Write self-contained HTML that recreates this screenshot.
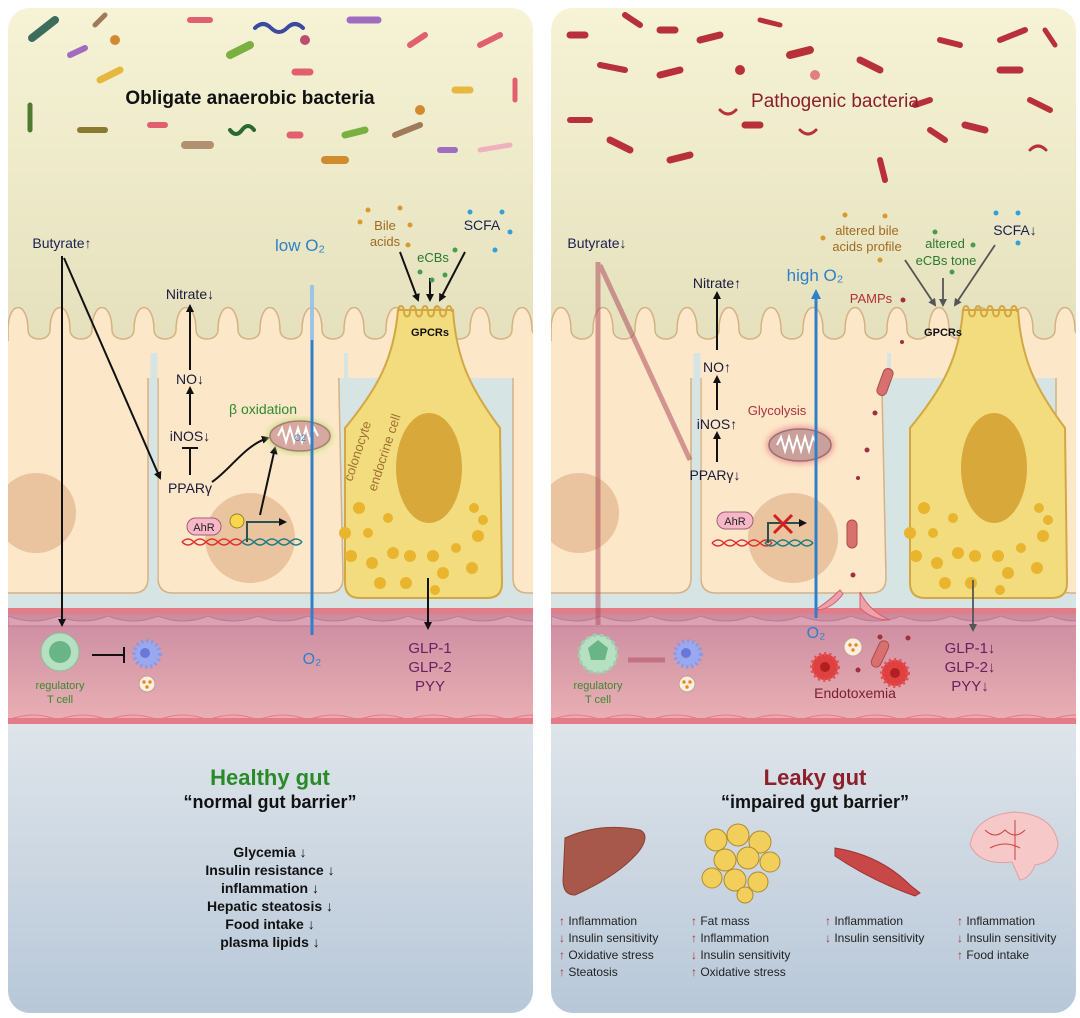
<!DOCTYPE html>
<html><head><meta charset="utf-8"><style>
html,body{margin:0;padding:0;background:#fff;}
svg{display:block;font-family:"Liberation Sans",sans-serif;}
</style></head><body>
<svg width="1080" height="1018" viewBox="0 0 1080 1018" xmlns="http://www.w3.org/2000/svg">
<defs>
<linearGradient id="top" x1="0" y1="0" x2="0" y2="1"><stop offset="0" stop-color="#f6f3d6"/><stop offset="1" stop-color="#e4e0bc"/></linearGradient>
<linearGradient id="bot" x1="0" y1="0" x2="0" y2="1"><stop offset="0" stop-color="#dfe5ea"/><stop offset="1" stop-color="#b7c7d8"/></linearGradient>
<linearGradient id="ves" x1="0" y1="0" x2="0" y2="1"><stop offset="0" stop-color="#c98aa0"/><stop offset="1" stop-color="#eab0b4"/></linearGradient>
<clipPath id="cp"><rect x="0" y="0" width="525" height="1005" rx="22"/></clipPath>
<marker id="ah" markerWidth="8" markerHeight="8" refX="6" refY="4" orient="auto" markerUnits="userSpaceOnUse"><path d="M0,0 L8,4 L0,8Z" fill="#111"/></marker>
<marker id="ahg" markerWidth="8" markerHeight="8" refX="6" refY="4" orient="auto" markerUnits="userSpaceOnUse"><path d="M0,0 L8,4 L0,8Z" fill="#555"/></marker>
<marker id="ahb" markerWidth="10" markerHeight="10" refX="7" refY="5" orient="auto" markerUnits="userSpaceOnUse"><path d="M0,0 L10,5 L0,10Z" fill="#2f80c8"/></marker>
<marker id="tb" markerWidth="2" markerHeight="16" refX="1" refY="8" orient="auto" markerUnits="userSpaceOnUse"><rect x="0" y="0" width="2.5" height="16" fill="#111"/></marker>
<filter id="glowG"><feGaussianBlur stdDeviation="3"/></filter>
<g id="panel">
 <g clip-path="url(#cp)">
  <rect x="0" y="0" width="525" height="345" fill="url(#top)"/>
  <rect x="0" y="340" width="525" height="265" fill="#d6e4e4"/>
  <rect x="0" y="712" width="525" height="300" fill="url(#bot)"/>
  <!-- cells -->
  <path d="M-20,335 L140,335 L140,570 Q140,585 125,585 L-20,585Z" fill="#fce7c8" stroke="#d6b184" stroke-width="1.5"/>
  <path d="M150,335 L330,335 L335,570 Q335,585 320,585 L165,585 Q150,585 150,570Z" fill="#fce7c8" stroke="#d6b184" stroke-width="1.5"/>
  <path d="M505,335 L560,335 L560,585 L520,585 Q505,585 505,570Z" fill="#fce7c8" stroke="#d6b184" stroke-width="1.5"/>
  <path d="M0,322 c0,-30 20,-30 20,0 c0,12 22,12 22,0 c0,-30 20,-30 20,0 c0,12 22,12 22,0 c0,-30 20,-30 20,0 c0,12 22,12 22,0 c0,-30 20,-30 20,0 c0,12 22,12 22,0 c0,-30 20,-30 20,0 c0,12 22,12 22,0 c0,-30 20,-30 20,0 c0,12 22,12 22,0 c0,-30 20,-30 20,0 c0,12 22,12 22,0 c0,-30 20,-30 20,0 c0,12 22,12 22,0 c0,-30 20,-30 20,0 c0,12 22,12 22,0 c0,-30 20,-30 20,0 c0,12 22,12 22,0 c0,-30 20,-30 20,0 c0,12 22,12 22,0 c0,-30 20,-30 20,0 c0,12 22,12 22,0 c0,-30 20,-30 20,0 L540,360 L0,360Z" fill="#fce7c8" stroke="#d6b184" stroke-width="1.5"/>
  <rect x="0" y="333" width="525" height="37" fill="#fce7c8"/>
  <line x1="146" y1="345" x2="146" y2="585" stroke="#d6e4e4" stroke-width="7"/>
  <line x1="338" y1="345" x2="338" y2="585" stroke="#d6e4e4" stroke-width="4"/>
  <circle cx="28" cy="505" r="40" fill="#e9c49e"/>
  <circle cx="242" cy="530" r="45" fill="#e9c49e"/>
  <!-- vessel -->
  <rect x="0" y="600" width="525" height="115" fill="url(#ves)"/>
  <rect x="0" y="600" width="525" height="6" fill="#e27d88"/>
  <path d="M0,608 q25,10 50,0 q25,10 50,0 q25,10 50,0 q25,10 50,0 q25,10 50,0 q25,10 50,0 q25,10 50,0 q25,10 50,0 q25,10 50,0 q25,10 50,0 q25,10 50,0 L550,618 L0,618Z" fill="#dba2b4" stroke="#c07a90" stroke-width="1"/>
  <path d="M0,712 q25,-10 50,0 q25,-10 50,0 q25,-10 50,0 q25,-10 50,0 q25,-10 50,0 q25,-10 50,0 q25,-10 50,0 q25,-10 50,0 q25,-10 50,0 q25,-10 50,0 q25,-10 50,0 L550,712Z" fill="#f4a6ae" stroke="#e07c88" stroke-width="1"/>
  <rect x="0" y="710" width="525" height="6" fill="#e27d88"/>
 </g>
</g>
<g id="endo">
  <path d="M390,302 L445,302 C448,350 462,380 492,420 L494,575 Q494,590 479,590 L352,590 Q337,590 337,575 L337,420 C370,380 386,350 390,302Z" fill="#f2dc7e" stroke="#d3a742" stroke-width="2"/>
  <path d="M390,304 c0,-8 6,-8 6,0 c0,6 6,6 6,0 c0,-8 6,-8 6,0 c0,6 6,6 6,0 c0,-8 6,-8 6,0 c0,6 6,6 6,0 c0,-8 6,-8 6,0 c0,6 6,6 6,0 c0,-8 6,-8 6,0" fill="none" stroke="#d3a742" stroke-width="2"/>
  <ellipse cx="421" cy="460" rx="33" ry="55" fill="#d8a93a"/>
  <g fill="#e9b52f">
   <circle cx="351" cy="500" r="6"/><circle cx="337" cy="525" r="6"/><circle cx="360" cy="525" r="5"/><circle cx="343" cy="548" r="6"/><circle cx="364" cy="555" r="6"/><circle cx="385" cy="545" r="6"/><circle cx="402" cy="548" r="6"/><circle cx="425" cy="548" r="6"/><circle cx="448" cy="540" r="5"/><circle cx="470" cy="528" r="6"/><circle cx="466" cy="500" r="5"/><circle cx="475" cy="512" r="5"/><circle cx="464" cy="560" r="6"/><circle cx="372" cy="575" r="6"/><circle cx="398" cy="575" r="6"/><circle cx="435" cy="565" r="6"/><circle cx="427" cy="582" r="5"/><circle cx="380" cy="510" r="5"/>
  </g>
</g>
</defs>

<g transform="translate(8,8)"><use href="#panel"/><use href="#endo"/></g>
<g transform="translate(551,8)"><use href="#panel"/><use href="#endo" transform="translate(22,0)"/></g>

<!-- bacteria left -->
<g stroke-linecap="round" fill="none">
 <line x1="32" y1="38" x2="55" y2="20" stroke="#3c6d5a" stroke-width="8"/>
 <line x1="70" y1="55" x2="85" y2="48" stroke="#a06cc0" stroke-width="6"/>
 <line x1="95" y1="25" x2="105" y2="15" stroke="#a07a5a" stroke-width="5"/>
 <line x1="190" y1="20" x2="210" y2="20" stroke="#e06070" stroke-width="6"/>
 <path d="M255,28 q8,-8 16,0 q8,8 16,0 q8,-8 16,0" stroke="#3a4aa0" stroke-width="4"/>
 <line x1="350" y1="20" x2="378" y2="20" stroke="#a06cc0" stroke-width="7"/>
 <line x1="230" y1="55" x2="250" y2="45" stroke="#7ab040" stroke-width="8"/>
 <line x1="100" y1="80" x2="120" y2="70" stroke="#e6b840" stroke-width="7"/>
 <line x1="410" y1="45" x2="425" y2="35" stroke="#e06070" stroke-width="6"/>
 <line x1="480" y1="45" x2="500" y2="35" stroke="#e06070" stroke-width="6"/>
 <line x1="455" y1="90" x2="470" y2="90" stroke="#e6b840" stroke-width="7"/>
 <line x1="30" y1="105" x2="30" y2="130" stroke="#507a30" stroke-width="5"/>
 <line x1="80" y1="130" x2="105" y2="130" stroke="#8a7a30" stroke-width="6"/>
 <line x1="150" y1="125" x2="165" y2="125" stroke="#e06070" stroke-width="6"/>
 <line x1="185" y1="145" x2="210" y2="145" stroke="#b09070" stroke-width="8"/>
 <path d="M230,130 q6,8 12,0 q6,-8 12,0" stroke="#2a6a30" stroke-width="4"/>
 <line x1="290" y1="135" x2="300" y2="135" stroke="#e06070" stroke-width="7"/>
 <line x1="325" y1="160" x2="345" y2="160" stroke="#d08a30" stroke-width="8"/>
 <line x1="345" y1="135" x2="365" y2="130" stroke="#7ab040" stroke-width="7"/>
 <line x1="395" y1="135" x2="420" y2="125" stroke="#a07a5a" stroke-width="6"/>
 <line x1="440" y1="150" x2="455" y2="150" stroke="#a06cc0" stroke-width="6"/>
 <line x1="480" y1="150" x2="510" y2="145" stroke="#f0b0c0" stroke-width="5"/>
 <line x1="515" y1="80" x2="515" y2="100" stroke="#e06070" stroke-width="5"/>
 <line x1="295" y1="72" x2="310" y2="72" stroke="#e06070" stroke-width="7"/>
 <circle cx="115" cy="40" r="5" fill="#d08a30"/><circle cx="420" cy="110" r="5" fill="#d08a30"/><circle cx="305" cy="40" r="5" fill="#c04a70"/>
</g>
<!-- bacteria right -->
<g stroke-linecap="round" fill="none" stroke="#b8303a">
 <line x1="570" y1="35" x2="585" y2="35" stroke-width="7"/>
 <line x1="625" y1="15" x2="640" y2="25" stroke-width="6"/>
 <line x1="660" y1="30" x2="675" y2="30" stroke-width="7"/>
 <line x1="600" y1="65" x2="625" y2="70" stroke-width="6"/>
 <line x1="700" y1="40" x2="720" y2="35" stroke-width="7"/>
 <line x1="760" y1="20" x2="780" y2="25" stroke-width="5"/>
 <line x1="790" y1="55" x2="810" y2="50" stroke-width="8"/>
 <line x1="860" y1="60" x2="880" y2="70" stroke-width="7"/>
 <line x1="940" y1="40" x2="960" y2="45" stroke-width="6"/>
 <line x1="1000" y1="40" x2="1025" y2="30" stroke-width="6"/>
 <line x1="1045" y1="30" x2="1055" y2="45" stroke-width="5"/>
 <line x1="1000" y1="70" x2="1020" y2="70" stroke-width="7"/>
 <line x1="660" y1="75" x2="680" y2="70" stroke-width="7"/>
 <line x1="570" y1="120" x2="590" y2="120" stroke-width="6"/>
 <line x1="610" y1="140" x2="630" y2="150" stroke-width="7"/>
 <line x1="670" y1="160" x2="690" y2="155" stroke-width="7"/>
 <line x1="745" y1="125" x2="760" y2="125" stroke-width="7"/>
 <line x1="880" y1="160" x2="885" y2="180" stroke-width="6"/>
 <line x1="930" y1="130" x2="945" y2="140" stroke-width="6"/>
 <line x1="965" y1="125" x2="985" y2="130" stroke-width="7"/>
 <line x1="1030" y1="100" x2="1050" y2="110" stroke-width="6"/>
 <line x1="915" y1="105" x2="930" y2="100" stroke-width="6"/>
 <path d="M800,130 q8,8 16,0 M1030,150 q8,-8 16,0 M720,110 q8,8 16,0" stroke-width="3"/>
 <circle cx="815" cy="75" r="5" fill="#e08080" stroke="none"/><circle cx="740" cy="70" r="5" fill="#b8303a" stroke="none"/>
</g>

<!-- LEFT TEXT & ARROWS -->
<g font-family="Liberation Sans, sans-serif" text-anchor="middle">
<text x="250" y="104" font-size="19" font-weight="bold" fill="#111">Obligate anaerobic bacteria</text>
<text x="62" y="248" font-size="14" fill="#1a2050">Butyrate↑</text>
<g stroke="#111" stroke-width="2" fill="none">
 <line x1="62" y1="256" x2="62" y2="625" marker-end="url(#ah)"/>
 <line x1="64" y1="258" x2="160" y2="478" marker-end="url(#ah)"/>
 <line x1="190" y1="370" x2="190" y2="306" marker-end="url(#ah)"/>
 <line x1="190" y1="425" x2="190" y2="388" marker-end="url(#ah)"/>
 <line x1="190" y1="475" x2="190" y2="448" marker-end="url(#tb)"/>
 <path d="M212,482 C230,470 245,445 268,438" marker-end="url(#ah)"/>
 <line x1="260" y1="515" x2="275" y2="448" marker-end="url(#ah)"/>
 <line x1="400" y1="252" x2="418" y2="300" marker-end="url(#ah)"/>
 <line x1="430" y1="278" x2="430" y2="300" marker-end="url(#ah)"/>
 <line x1="465" y1="252" x2="440" y2="300" marker-end="url(#ah)"/>
 <line x1="428" y1="578" x2="428" y2="628" marker-end="url(#ah)"/>
 <line x1="92" y1="655" x2="124" y2="655" marker-end="url(#tb)"/>
</g>
<text x="190" y="299" font-size="14" fill="#1a1a3a">Nitrate↓</text>
<text x="190" y="384" font-size="14" fill="#1a1a3a">NO↓</text>
<text x="190" y="441" font-size="14" fill="#1a1a3a">iNOS↓</text>
<text x="190" y="493" font-size="14" fill="#1a1a3a">PPARγ</text>
<text x="263" y="414" font-size="14" fill="#2e8b2e">β oxidation</text>
<ellipse cx="300" cy="436" rx="32" ry="17" fill="#b8e07a" filter="url(#glowG)"/>
<ellipse cx="300" cy="436" rx="30" ry="15" fill="#d6a9a0" stroke="#b07a74" stroke-width="1.5"/>
<path d="M278,436 l4,-8 l4,14 l4,-14 l4,14 l4,-14 l4,14 l4,-14 l4,14 l4,-14 l4,8" fill="none" stroke="#fff" stroke-width="2"/>
<text x="300" y="441" font-size="9" fill="#2f80c8">O2</text>
<rect x="187" y="518" width="34" height="17" rx="8.5" fill="#f6b8c8" stroke="#a06070"/>
<text x="204" y="531" font-size="11" fill="#222">AhR</text>
<circle cx="237" cy="521" r="7" fill="#f6d84a" stroke="#a08020"/>
<path d="M182,542 q6,-6 12,0 q6,6 12,0 q6,-6 12,0 q6,6 12,0 q6,-6 12,0 M182,542 q6,6 12,0 q6,-6 12,0 q6,6 12,0 q6,-6 12,0 q6,6 12,0" stroke="#e03030" fill="none" stroke-width="1.5"/>
<path d="M242,542 q6,-6 12,0 q6,6 12,0 q6,-6 12,0 q6,6 12,0 q6,-6 12,0 M242,542 q6,6 12,0 q6,-6 12,0 q6,6 12,0 q6,-6 12,0 q6,6 12,0" stroke="#207a80" fill="none" stroke-width="1.5"/>
<path d="M247,542 L247,522 L285,522" stroke="#2a5050" stroke-width="2" fill="none" marker-end="url(#ah)"/>
<text x="300" y="251" font-size="17" fill="#2f80c8">low O₂</text>
<line x1="312" y1="285" x2="312" y2="340" stroke="#9cc4e4" stroke-width="4"/>
<line x1="312" y1="340" x2="312" y2="635" stroke="#2f80c8" stroke-width="3"/>
<text x="312" y="664" font-size="16" fill="#2f80c8">O₂</text>
<text x="385" y="230" font-size="13" fill="#a06a20">Bile</text>
<text x="385" y="246" font-size="13" fill="#a06a20">acids</text>
<text x="433" y="262" font-size="13" fill="#2a7a30">eCBs</text>
<text x="482" y="230" font-size="14" fill="#1a2050">SCFA</text>
<g fill="#d89a30"><circle cx="360" cy="222" r="2.5"/><circle cx="368" cy="210" r="2.5"/><circle cx="400" cy="208" r="2.5"/><circle cx="410" cy="225" r="2.5"/><circle cx="408" cy="245" r="2.5"/></g>
<g fill="#4a9a50"><circle cx="420" cy="272" r="2.5"/><circle cx="445" cy="275" r="2.5"/><circle cx="455" cy="250" r="2.5"/><circle cx="432" cy="280" r="2.5"/></g>
<g fill="#30a0d8"><circle cx="470" cy="212" r="2.5"/><circle cx="502" cy="212" r="2.5"/><circle cx="510" cy="232" r="2.5"/><circle cx="495" cy="250" r="2.5"/></g>
<text x="430" y="336" font-size="11" font-weight="bold" fill="#111">GPCRs</text>
<text transform="translate(352,482) rotate(-72)" font-size="13" fill="#a07030" text-anchor="start">colonocyte</text>
<text transform="translate(376,492) rotate(-72)" font-size="13" fill="#a07030" text-anchor="start">endocrine cell</text>
<text x="430" y="653" font-size="15" fill="#6a2060">GLP-1</text>
<text x="430" y="672" font-size="15" fill="#6a2060">GLP-2</text>
<text x="430" y="691" font-size="15" fill="#6a2060">PYY</text>
<circle cx="60" cy="652" r="19" fill="#b5e0c2" stroke="#8ac09a"/>
<circle cx="60" cy="652" r="11" fill="#6ab588"/>
<text x="60" y="689" font-size="11" fill="#3a8a30">regulatory</text>
<text x="60" y="703" font-size="11" fill="#3a8a30">T cell</text>
<circle cx="147" cy="654" r="13" fill="#9aa8f0" stroke="#8898e8" stroke-width="4" stroke-dasharray="2 3"/>
<circle cx="145" cy="653" r="5" fill="#6878d8"/>
<circle cx="147" cy="684" r="8" fill="#fbeede" stroke="#c0a090"/>
<g fill="#e08a20"><circle cx="144" cy="682" r="1.7"/><circle cx="150" cy="682" r="1.7"/><circle cx="147" cy="687" r="1.7"/></g>
<text x="270" y="785" font-size="22" font-weight="bold" fill="#2a8a2a">Healthy gut</text>
<text x="270" y="808" font-size="18" font-weight="bold" fill="#111">“normal gut barrier”</text>
<g font-size="14" font-weight="bold" fill="#111">
<text x="270" y="857">Glycemia ↓</text>
<text x="270" y="875">Insulin resistance ↓</text>
<text x="270" y="893">inflammation ↓</text>
<text x="270" y="911">Hepatic steatosis ↓</text>
<text x="270" y="929">Food intake ↓</text>
<text x="270" y="947">plasma lipids ↓</text>
</g>
</g>

<!-- RIGHT TEXT & ARROWS -->
<g font-family="Liberation Sans, sans-serif" text-anchor="middle">
<text x="835" y="107" font-size="19" fill="#8b1f2a">Pathogenic bacteria</text>
<text x="597" y="248" font-size="14" fill="#1a2050">Butyrate↓</text>
<g stroke="#b05060" stroke-width="5" opacity="0.55" fill="none">
 <line x1="598" y1="262" x2="598" y2="625"/>
 <line x1="600" y1="265" x2="690" y2="460"/>
 <line x1="628" y1="660" x2="665" y2="660"/>
</g>
<g stroke="#111" stroke-width="2" fill="none">
 <line x1="717" y1="350" x2="717" y2="293" marker-end="url(#ah)"/>
 <line x1="717" y1="410" x2="717" y2="377" marker-end="url(#ah)"/>
 <line x1="717" y1="462" x2="717" y2="433" marker-end="url(#ah)"/>
</g>
<g stroke="#555" stroke-width="1.8" fill="none">
 <line x1="905" y1="260" x2="935" y2="305" marker-end="url(#ahg)"/>
 <line x1="943" y1="278" x2="943" y2="305" marker-end="url(#ahg)"/>
 <line x1="995" y1="245" x2="955" y2="305" marker-end="url(#ahg)"/>
 <line x1="973" y1="580" x2="973" y2="630" marker-end="url(#ahg)"/>
</g>
<text x="717" y="288" font-size="14" fill="#1a1a3a">Nitrate↑</text>
<text x="717" y="372" font-size="14" fill="#1a1a3a">NO↑</text>
<text x="717" y="429" font-size="14" fill="#1a1a3a">iNOS↑</text>
<text x="715" y="480" font-size="14" fill="#1a1a3a">PPARγ↓</text>
<text x="777" y="415" font-size="13" fill="#b0303a">Glycolysis</text>
<ellipse cx="800" cy="445" rx="34" ry="19" fill="#f0a0a0" filter="url(#glowG)"/>
<ellipse cx="800" cy="445" rx="31" ry="16" fill="#c9a09a" stroke="#9a7070" stroke-width="1.5"/>
<path d="M777,445 l4,-8 l4,14 l4,-14 l4,14 l4,-14 l4,14 l4,-14 l4,14 l4,-14 l4,8" fill="none" stroke="#fff" stroke-width="2"/>
<rect x="717" y="512" width="36" height="17" rx="8.5" fill="#f6b8c8" stroke="#a06070"/>
<text x="735" y="525" font-size="11" fill="#222">AhR</text>
<path d="M712,543 q6,-6 12,0 q6,6 12,0 q6,-6 12,0 q6,6 12,0 q6,-6 12,0 M712,543 q6,6 12,0 q6,-6 12,0 q6,6 12,0 q6,-6 12,0 q6,6 12,0" stroke="#e03030" fill="none" stroke-width="1.5"/>
<path d="M765,543 q6,-6 12,0 q6,6 12,0 q6,-6 12,0 q6,6 12,0 M765,543 q6,6 12,0 q6,-6 12,0 q6,6 12,0 q6,-6 12,0" stroke="#207a80" fill="none" stroke-width="1.5"/>
<path d="M768,543 L768,523 L805,523" stroke="#2a5050" stroke-width="2" fill="none" marker-end="url(#ah)"/>
<path d="M774,515 L792,533 M792,515 L774,533" stroke="#d02020" stroke-width="3"/>
<text x="815" y="281" font-size="17" fill="#2f80c8">high O₂</text>
<line x1="816" y1="618" x2="816" y2="292" stroke="#2f80c8" stroke-width="3" marker-end="url(#ahb)"/>
<text x="816" y="638" font-size="16" fill="#2f80c8">O₂</text>
<text x="867" y="235" font-size="13" fill="#a06a20">altered bile</text>
<text x="867" y="251" font-size="13" fill="#a06a20">acids profile</text>
<text x="945" y="248" font-size="13" fill="#2a7a30">altered</text>
<text x="946" y="265" font-size="13" fill="#2a7a30">eCBs tone</text>
<text x="1015" y="235" font-size="14" fill="#1a2050">SCFA↓</text>
<g fill="#d89a30"><circle cx="845" cy="215" r="2.5"/><circle cx="885" cy="216" r="2.5"/><circle cx="823" cy="238" r="2.5"/><circle cx="880" cy="260" r="2.5"/></g>
<g fill="#4a9a50"><circle cx="935" cy="232" r="2.5"/><circle cx="973" cy="245" r="2.5"/><circle cx="952" cy="272" r="2.5"/></g>
<g fill="#30a0d8"><circle cx="996" cy="213" r="2.5"/><circle cx="1018" cy="213" r="2.5"/><circle cx="1018" cy="243" r="2.5"/></g>
<text x="871" y="303" font-size="13" fill="#b0303a">PAMPs</text>
<g fill="#a03040"><circle cx="903" cy="300" r="2.5"/><circle cx="902" cy="342" r="2"/><circle cx="875" cy="413" r="2.5"/><circle cx="867" cy="450" r="2.5"/><circle cx="858" cy="478" r="2"/><circle cx="853" cy="575" r="2.5"/><circle cx="880" cy="637" r="2.5"/><circle cx="908" cy="638" r="2.5"/><circle cx="858" cy="670" r="2.5"/></g>
<rect x="880" y="368" width="10" height="28" rx="5" transform="rotate(20 885 382)" fill="#d87070" stroke="#b04a4a"/>
<rect x="847" y="520" width="10" height="28" rx="5" fill="#d87070" stroke="#b04a4a"/>
<rect x="875" y="640" width="10" height="28" rx="5" transform="rotate(25 880 654)" fill="#d87070" stroke="#b04a4a"/>
<path d="M818,608 q12,-8 22,-18 l3,4 q-10,14 -25,16Z M860,592 q10,20 30,28 q-18,0 -30,-12Z" fill="#f0a0a8" stroke="#d06070"/>
<text x="943" y="336" font-size="11" font-weight="bold" fill="#111">GPCRs</text>
<text x="970" y="653" font-size="15" fill="#6a2060">GLP-1↓</text>
<text x="970" y="672" font-size="15" fill="#6a2060">GLP-2↓</text>
<text x="970" y="691" font-size="15" fill="#6a2060">PYY↓</text>
<circle cx="825" cy="667" r="13" fill="#e04040" stroke="#e05050" stroke-width="4" stroke-dasharray="2 3"/>
<circle cx="825" cy="667" r="5" fill="#b02020"/>
<circle cx="895" cy="673" r="13" fill="#e04040" stroke="#e05050" stroke-width="4" stroke-dasharray="2 3"/>
<circle cx="895" cy="673" r="5" fill="#b02020"/>
<circle cx="853" cy="647" r="9" fill="#fbeede" stroke="#c0a090"/>
<g fill="#e08a20"><circle cx="850" cy="645" r="1.7"/><circle cx="856" cy="645" r="1.7"/><circle cx="853" cy="650" r="1.7"/></g>
<text x="855" y="698" font-size="14" fill="#7a2030">Endotoxemia</text>
<circle cx="598" cy="654" r="19" fill="#b5e0c2" stroke="#9ad0aa" stroke-width="3" stroke-dasharray="4 3"/>
<path d="M588,648 l10,-8 l10,8 l-3,12 l-14,0Z" fill="#6ab588"/>
<text x="598" y="689" font-size="11" fill="#3a8a30">regulatory</text>
<text x="598" y="703" font-size="11" fill="#3a8a30">T cell</text>
<circle cx="688" cy="654" r="13" fill="#9aa8f0" stroke="#8898e8" stroke-width="4" stroke-dasharray="2 3"/>
<circle cx="686" cy="653" r="5" fill="#6878d8"/>
<circle cx="687" cy="684" r="8" fill="#fbeede" stroke="#c0a090"/>
<g fill="#e08a20"><circle cx="684" cy="682" r="1.7"/><circle cx="690" cy="682" r="1.7"/><circle cx="687" cy="687" r="1.7"/></g>
<text x="815" y="785" font-size="22" font-weight="bold" fill="#8b1f2a">Leaky gut</text>
<text x="815" y="808" font-size="18" font-weight="bold" fill="#111">“impaired gut barrier”</text>
</g>
<!-- organs -->
<path d="M565,838 Q600,822 640,830 Q650,835 640,850 Q620,875 575,895 Q563,895 563,880Z" fill="#a8584a" stroke="#8a4034"/>
<g stroke="#b08a30" stroke-width="1">
<circle cx="716" cy="840" r="11" fill="#f2cf5a"/><circle cx="738" cy="835" r="11" fill="#f2cf5a"/><circle cx="760" cy="842" r="11" fill="#f2cf5a"/><circle cx="725" cy="860" r="11" fill="#f2cf5a"/><circle cx="748" cy="858" r="11" fill="#f2cf5a"/><circle cx="770" cy="862" r="10" fill="#f2cf5a"/><circle cx="712" cy="878" r="10" fill="#f2cf5a"/><circle cx="735" cy="880" r="11" fill="#f2cf5a"/><circle cx="758" cy="882" r="10" fill="#f2cf5a"/><circle cx="745" cy="895" r="8" fill="#f2cf5a"/>
</g>
<path d="M835,848 Q880,855 910,885 L920,893 L915,896 Q870,880 835,856Z" fill="#c84848" stroke="#a03030"/>
<path d="M970,845 Q975,815 1015,812 Q1055,815 1058,845 Q1055,862 1035,865 Q1030,878 1020,880 L1012,862 Q980,866 970,845Z" fill="#f6c8c8" stroke="#e0a0a0"/>
<path d="M985,830 q10,10 20,0 q10,10 20,0 M990,848 q15,-8 30,0 M1015,820 l0,40" stroke="#d04040" fill="none"/>
<g font-family="Liberation Sans, sans-serif" font-size="12" fill="#222">
<text x="559" y="925"><tspan fill="#b0303a">↑</tspan> Inflammation</text>
<text x="559" y="942"><tspan fill="#b0303a">↓</tspan> Insulin sensitivity</text>
<text x="559" y="959"><tspan fill="#b0303a">↑</tspan> Oxidative stress</text>
<text x="559" y="976"><tspan fill="#b0303a">↑</tspan> Steatosis</text>
<text x="691" y="925"><tspan fill="#b0303a">↑</tspan> Fat mass</text>
<text x="691" y="942"><tspan fill="#b0303a">↑</tspan> Inflammation</text>
<text x="691" y="959"><tspan fill="#b0303a">↓</tspan> Insulin sensitivity</text>
<text x="691" y="976"><tspan fill="#b0303a">↑</tspan> Oxidative stress</text>
<text x="825" y="925"><tspan fill="#b0303a">↑</tspan> Inflammation</text>
<text x="825" y="942"><tspan fill="#b0303a">↓</tspan> Insulin sensitivity</text>
<text x="957" y="925"><tspan fill="#b0303a">↑</tspan> Inflammation</text>
<text x="957" y="942"><tspan fill="#b0303a">↓</tspan> Insulin sensitivity</text>
<text x="957" y="959"><tspan fill="#b0303a">↑</tspan> Food intake</text>
</g>
</svg>
</body></html>
